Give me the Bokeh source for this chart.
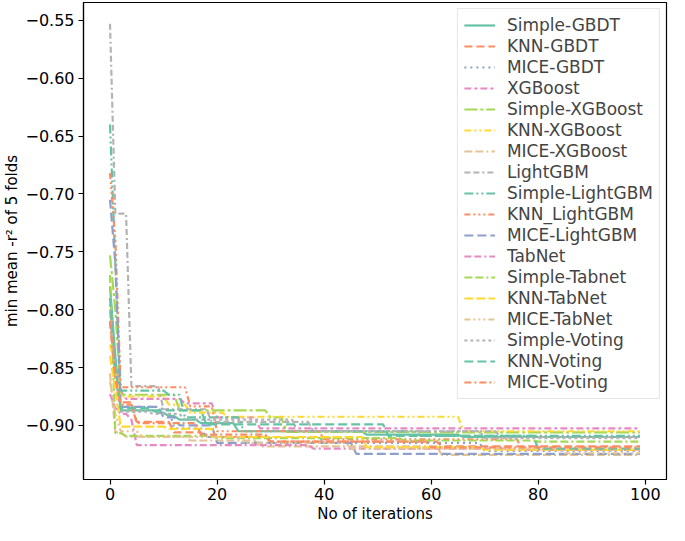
from bokeh.plotting import figure
from bokeh.models import Range1d, FixedTicker, CustomJSTickFormatter, Legend
from bokeh.embed import file_html
from bokeh.resources import INLINE

# ---------------- data ----------------
LAST_ITER = 99

names = ["Simple-GBDT", "KNN-GBDT", "MICE-GBDT", "XGBoost", "Simple-XGBoost",
         "KNN-XGBoost", "MICE-XGBoost", "LightGBM", "Simple-LightGBM",
         "KNN_LightGBM", "MICE-LightGBM", "TabNet", "Simple-Tabnet",
         "KNN-TabNet", "MICE-TabNet", "Simple-Voting", "KNN-Voting", "MICE-Voting"]

# iterations at which the running minimum changes, and the new minimum
simple_gbdt_it = [0, 1, 2, 9, 11, 13, 17, 24, 48, 66]
simple_gbdt_v = [-0.78, -0.84, -0.887, -0.889, -0.892, -0.895, -0.898, -0.905, -0.908, -0.910]
knn_gbdt_it = [0, 1, 2, 5, 12, 18, 30, 62]
knn_gbdt_v = [-0.81, -0.86, -0.880, -0.897, -0.906, -0.910, -0.914, -0.918]
mice_gbdt_it = [0, 1, 2, 10, 12, 18, 40, 70]
mice_gbdt_v = [-0.79, -0.85, -0.884, -0.886, -0.9025, -0.910, -0.915, -0.922]
xgb_it = [0, 1, 2, 3, 14, 20, 28]
xgb_v = [-0.80, -0.85, -0.870, -0.877, -0.881, -0.893, -0.9025]
simple_xgb_it = [0, 1, 2, 13, 30, 33, 60]
simple_xgb_v = [-0.753, -0.80, -0.8735, -0.887, -0.893, -0.9055, -0.906]
knn_xgb_it = [0, 1, 2, 11, 15, 22, 66]
knn_xgb_v = [-0.83, -0.85, -0.875, -0.882, -0.889, -0.8925, -0.905]
mice_xgb_it = [0, 1, 3, 15, 28, 62]
mice_xgb_v = [-0.855, -0.906, -0.9096, -0.913, -0.918, -0.9255]
lgbm_it = [0, 1, 4, 10, 19, 38, 73]
lgbm_v = [-0.553, -0.717, -0.866, -0.886, -0.897, -0.905, -0.910]
simple_lgbm_it = [0, 1, 2, 11, 14, 25, 58]
simple_lgbm_v = [-0.640, -0.76, -0.870, -0.8735, -0.893, -0.905, -0.909]
knn_lgbm_it = [0, 1, 2, 15, 20, 40, 77]
knn_lgbm_v = [-0.682, -0.74, -0.867, -0.8835, -0.905, -0.912, -0.921]
mice_lgbm_it = [0, 1, 2, 10, 13, 20, 46]
mice_lgbm_v = [-0.705, -0.76, -0.884, -0.893, -0.900, -0.915, -0.9245]
tabnet_it = [0, 1, 2, 4, 5, 38, 75]
tabnet_v = [-0.873, -0.885, -0.890, -0.895, -0.917, -0.920, -0.921]
simple_tab_it = [0, 1, 3, 20, 55, 80]
simple_tab_v = [-0.77, -0.9066, -0.909, -0.911, -0.913, -0.914]
knn_tab_it = [0, 1, 2, 11, 20, 48, 70]
knn_tab_v = [-0.84, -0.87, -0.901, -0.903, -0.910, -0.919, -0.921]
mice_tab_it = [0, 1, 2, 6, 25, 45, 85]
mice_tab_v = [-0.862, -0.89, -0.905, -0.910, -0.915, -0.920, -0.924]
simple_vote_it = [0, 1, 2, 8, 14, 35, 70]
simple_vote_v = [-0.80, -0.86, -0.888, -0.890, -0.895, -0.905, -0.911]
knn_vote_it = [0, 1, 2, 8, 18, 52, 80]
knn_vote_v = [-0.79, -0.85, -0.885, -0.887, -0.899, -0.909, -0.920]
mice_vote_it = [0, 1, 2, 5, 17, 30, 60]
mice_vote_v = [-0.81, -0.86, -0.882, -0.898, -0.908, -0.914, -0.919]

series_it = [simple_gbdt_it, knn_gbdt_it, mice_gbdt_it, xgb_it, simple_xgb_it,
             knn_xgb_it, mice_xgb_it, lgbm_it, simple_lgbm_it, knn_lgbm_it,
             mice_lgbm_it, tabnet_it, simple_tab_it, knn_tab_it, mice_tab_it,
             simple_vote_it, knn_vote_it, mice_vote_it]
series_v = [simple_gbdt_v, knn_gbdt_v, mice_gbdt_v, xgb_v, simple_xgb_v,
            knn_xgb_v, mice_xgb_v, lgbm_v, simple_lgbm_v, knn_lgbm_v,
            mice_lgbm_v, tabnet_v, simple_tab_v, knn_tab_v, mice_tab_v,
            simple_vote_v, knn_vote_v, mice_vote_v]

x_ticks = [0, 20, 40, 60, 80, 100]
y_ticks = [-0.90, -0.85, -0.80, -0.75, -0.70, -0.65, -0.60, -0.55]

# ---------------- styles ----------------
set2 = ["#66c2a5", "#fc8d62", "#8da0cb", "#e78ac3", "#a6d854", "#ffd92f", "#e5c494", "#b3b3b3"]
dashes = ["solid", "8 4", "2 4", "7 3 3 3", "13 3 3 3",
          "7 3 2 3 2 3", "8 3 8 3 2 3", "6 3 6 3 2 3", "9 3 2 3 2 3",
          "6 3 2 3 2 3 2 3", "9 4", "7 3 7 3 2 3", "8 3 8 3 2 3",
          "9 3", "6 3 2 3 2 3 2 3", "3 3", "9 4", "7 3 2 3"]

FONT = "DejaVu Sans"

p = figure(width=669, height=525, output_backend="svg", toolbar_location=None,
           x_range=Range1d(-4.95, 103.95), y_range=Range1d(-0.9467, -0.5346),
           min_border_left=50, min_border_right=3, min_border_top=2, min_border_bottom=10)

renderers = []
for i, (its, vs) in enumerate(zip(series_it, series_v)):
    xs = [its[0]]
    ys = [vs[0]]
    for k in range(1, len(its)):
        xs += [its[k] - 1, its[k]]
        ys += [vs[k - 1], vs[k]]
    xs.append(LAST_ITER)
    ys.append(vs[-1])
    r = p.line(xs, ys, line_color=set2[i % 8], line_width=2.2, line_dash=dashes[i])
    renderers.append((names[i], [r]))

legend = Legend(items=renderers, location="top_right")
legend.label_text_font = FONT
legend.label_text_font_size = "17px"
legend.label_height = 20
legend.glyph_height = 20
legend.glyph_width = 31
legend.spacing = 1
legend.padding = 6
legend.margin = 6
legend.label_standoff = 12
legend.border_line_color = "#cccccc"
legend.border_line_width = 1
legend.background_fill_alpha = 0.85
p.add_layout(legend, "center")

p.xgrid.visible = False
p.ygrid.visible = False
p.outline_line_color = "black"
p.outline_line_width = 1.2
p.outline_line_alpha = 1.0

p.xaxis.ticker = FixedTicker(ticks=x_ticks)
p.yaxis.ticker = FixedTicker(ticks=y_ticks)
p.yaxis.formatter = CustomJSTickFormatter(
    code="return (tick < 0 ? '\u2212' : '') + Math.abs(tick).toFixed(2);")
p.xaxis.formatter = CustomJSTickFormatter(code="return tick.toFixed(0);")

for ax in (p.xaxis[0], p.yaxis[0]):
    ax.axis_line_color = "black"
    ax.axis_line_width = 1.2
    ax.major_tick_in = 0
    ax.major_tick_out = 5
    ax.major_tick_line_width = 1.2
    ax.minor_tick_out = 0
    ax.minor_tick_in = 0
    ax.major_label_text_font = FONT
    ax.major_label_text_font_size = "16px"
    ax.major_label_text_color = "black"
    ax.axis_label_text_font = FONT
    ax.axis_label_text_font_size = "15px"
    ax.axis_label_text_font_style = "normal"
    ax.axis_label_text_color = "black"

p.xaxis.axis_label = "No of iterations"
p.yaxis.axis_label = "min mean -r\u00b2 of 5 folds"
p.xaxis.axis_label_standoff = 2
p.yaxis.axis_label_standoff = 1
p.xaxis.major_label_standoff = 3
p.yaxis.major_label_standoff = 4

open("out.html", "w").write(file_html(p, INLINE))
